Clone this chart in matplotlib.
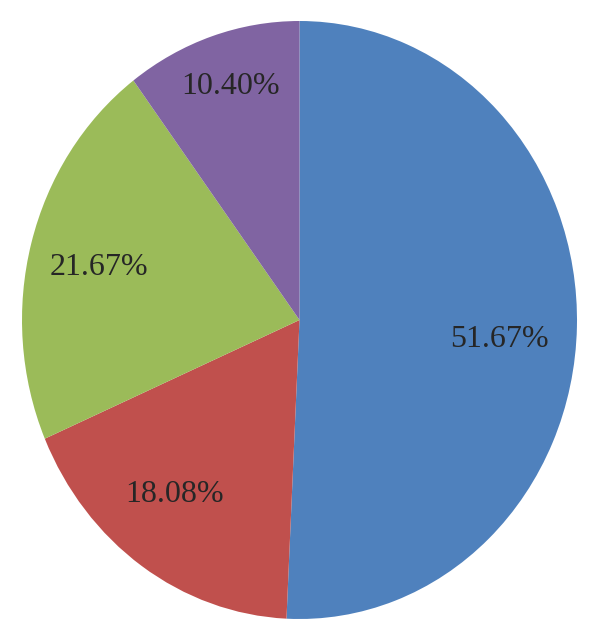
import matplotlib
matplotlib.use('Agg')
import matplotlib.pyplot as plt

# slice values (percent), clockwise from 12 o'clock
labels = ['51.67%', '18.08%', '21.67%', '10.40%']
values = [51.67, 18.08, 21.67, 10.40]
colors = ['#4F81BD', '#C0504D', '#9BBB59', '#8064A2']

# label anchor points (unit-circle coords, text centre / baseline)
label_pos = [(0.719, -0.090), (-0.449, -0.609), (-0.723, 0.151), (-0.249, 0.756)]

fig = plt.figure(figsize=(6.0, 6.41), dpi=100)
fig.patch.set_facecolor('white')
# pie is slightly taller than wide in the reference
ax = fig.add_axes([22 / 600, 22 / 641, 555 / 600, 598 / 641])

wedges, _ = ax.pie(values, colors=colors, startangle=90, counterclock=False,
                   wedgeprops=dict(linewidth=0))
ax.set_aspect('auto')
ax.set_xlim(-1, 1)
ax.set_ylim(-1, 1)
ax.axis('off')

for txt, (x, y) in zip(labels, label_pos):
    ax.text(x, y, txt, ha='center', va='baseline', fontsize=23,
            family='Liberation Serif', color='#262626')

plt.savefig('out.png', dpi=100, facecolor='white')
plt.close()
